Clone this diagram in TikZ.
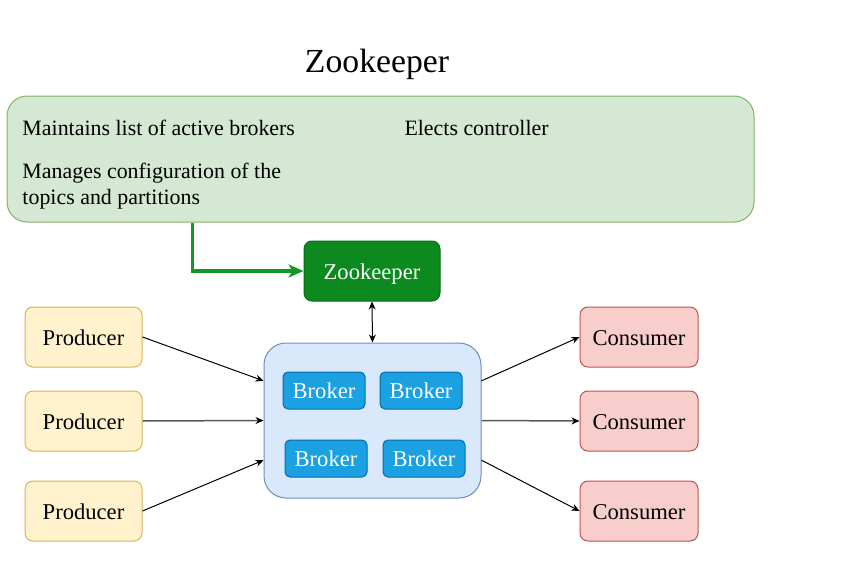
\documentclass[tikz,border=0pt]{standalone}
\usepackage{fontspec}
\setmainfont{Liberation Serif}
\usetikzlibrary{arrows.meta,calc,positioning}
\definecolor{infofill}{HTML}{D5E8D4}
\definecolor{infodraw}{HTML}{82B366}
\definecolor{zkfill}{HTML}{0D8A1F}
\definecolor{zkdraw}{HTML}{0A6B18}
\definecolor{zkarrow}{HTML}{12982A}
\definecolor{clusterfill}{HTML}{DAE8FC}
\definecolor{clusterdraw}{HTML}{6C8EBF}
\definecolor{brokerfill}{HTML}{1BA1E2}
\definecolor{brokerdraw}{HTML}{006EAF}
\definecolor{prodfill}{HTML}{FFF2CC}
\definecolor{proddraw}{HTML}{D6B656}
\definecolor{consfill}{HTML}{F8CECC}
\definecolor{consdraw}{HTML}{B85450}

\begin{document}
\begin{tikzpicture}[x=1pt, y=-1pt, line width=1pt, >={Stealth[length=8pt,width=7pt,black]},
  box/.style={draw, rounded corners=8pt, inner sep=0pt, minimum width=117pt, minimum height=60pt,
    font=\fontsize{22.6}{26}\selectfont, text height=16pt, text depth=0pt}]
   \useasboundingbox (0,0) rectangle (844,570);
   % zookeeper part
   \node (title) at (377,72) [anchor=base, font=\fontsize{33.7}{40}\selectfont] {Zookeeper};
   \node (info) at (380.5,159) [draw=infodraw, fill=infofill, rounded corners=20pt,
      minimum width=747pt, minimum height=126pt] {};
   \begin{scope}[every node/.style={anchor=base west, inner sep=0pt, font=\fontsize{21.9}{26}\selectfont}]
    \node (t1) at (22,135) {Maintains list of active brokers};
    \node (t2) at (404,135) {Elects controller};
    \node (t3) at (22,204) [align=left] {Manages configuration of the\\topics and partitions};
   \end{scope}
   \node (zk) at (372,271) [box, draw=zkdraw, fill=zkfill, text=white, minimum width=136pt] {Zookeeper};
   % cluster with brokers
   \node (cluster) at (372.5,420.5) [draw=clusterdraw, fill=clusterfill, rounded corners=22pt,
      minimum width=217pt, minimum height=155pt] {};
   \begin{scope}[every node/.style={box, draw=brokerdraw, fill=brokerfill, text=white,
      rounded corners=5pt, minimum width=82pt, minimum height=37pt}]
    \node (b1) at (324,390.5) {Broker};
    \node (b2) at (421,390.5) {Broker};
    \node (b3) at (326,458.5) {Broker};
    \node (b4) at (424,458.5) {Broker};
   \end{scope}
   \begin{scope}[every node/.style={box, draw=proddraw, fill=prodfill}]
    \node (p1) at (83.5,337) {Producer};
    \node (p2) at (83.5,421) {Producer};
    \node (p3) at (83.5,511) {Producer};
   \end{scope}
   \begin{scope}[every node/.style={box, draw=consdraw, fill=consfill, minimum width=118pt}]
    \node (c1) at (639,337) {Consumer};
    \node (c2) at (639,421) {Consumer};
    \node (c3) at (639,511) {Consumer};
   \end{scope}
   % connections
   \draw[zkarrow, line width=3.5pt, -{Stealth[length=15pt,width=13pt,inset=4pt]}]
      ($(info.south west)!0.249!(info.south east)$) |- (zk.west);
   \draw[<->] (zk.south) -- (cluster.north);
   \begin{scope}[->]
    \draw (p1.east) -- (cluster.160);
    \draw[black!65, line width=1.5pt] (p2.east) -- (cluster.west);
    \draw (p3.east) -- (cluster.200);
    \draw (cluster.20) -- (c1.west);
    \draw[black!65, line width=1.5pt] (cluster.east) -- (c2.west);
    \draw (cluster.-20) -- (c3.west);
   \end{scope}
\end{tikzpicture}
\end{document}
